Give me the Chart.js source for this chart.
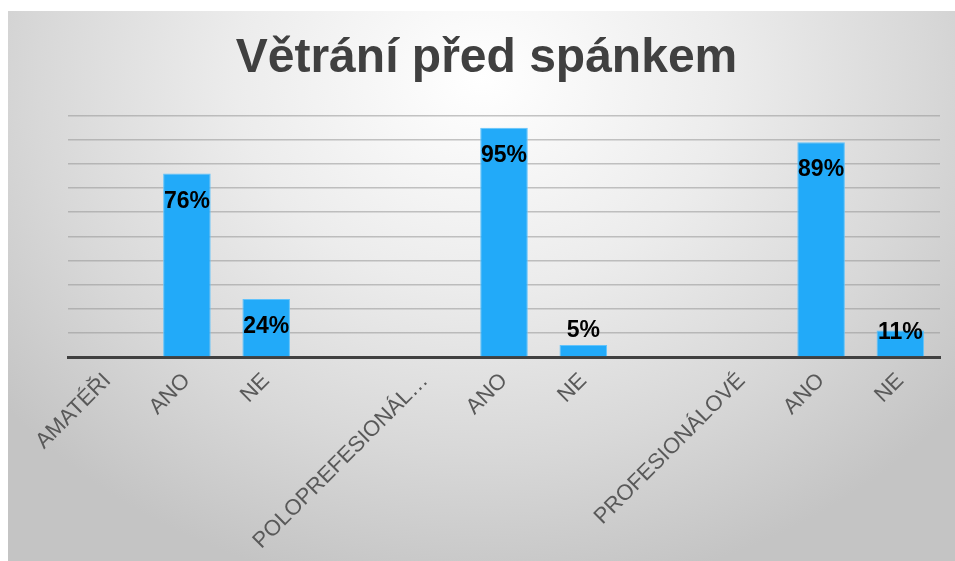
<!DOCTYPE html>
<html>
<head>
<meta charset="utf-8">
<script src="https://cdn.jsdelivr.net/npm/chart.js@4"></script>
<style>
    html, body { margin: 0; padding: 0; background: #ffffff; }
    #box {
        position: absolute;
        left: 8px;
        top: 11px;
        width: 947px;
        height: 550px;
        background: radial-gradient(ellipse 65% 95% at 50% 12%, #ffffff 0%, #ececec 40%, #d8d8d8 72%, #c4c4c4 100%);
    }
</style>
</head>
<body>
<div id="box"><canvas id="chartCanvas" width="947" height="550"></canvas></div>
<script>
// ---------- Data ----------
const categories = ["AMATÉŘI", "ANO", "NE", "", "POLOPREFESIONÁL…", "ANO", "NE", "", "PROFESIONÁLOVÉ", "ANO", "NE"];
const percentValues = [null, 76, 24, null, null, 95, 5, null, null, 89, 11];
const yTicks = [0, 10, 20, 30, 40, 50, 60, 70, 80, 90, 100];

// ---------- Value labels (like excel "inside end") ----------
const valueLabels = {
    id: "valueLabels",
    afterDatasetsDraw(chart) {
        const ctx = chart.ctx;
        const meta = chart.getDatasetMeta(0);
        ctx.save();
        ctx.font = "bold 23px 'Liberation Sans', Arial, sans-serif";
        ctx.fillStyle = "#000000";
        ctx.textAlign = "center";
        ctx.textBaseline = "middle";
        meta.data.forEach((bar, i) => {
            const v = percentValues[i];
            if (v === null) return;
            const h = bar.base - bar.y;
            let y;
            if (h >= 45) {
                y = bar.y + 28;
            } else if (h >= 20) {
                y = bar.base - 24;
            } else {
                y = bar.y - 14;
            }
            ctx.fillText(v + "%", bar.x, y);
        });
        ctx.restore();
    }
};

const ctx = document.getElementById("chartCanvas").getContext("2d");

new Chart(ctx, {
    type: "bar",
    data: {
        labels: categories,
        datasets: [{
            label: "Větrání před spánkem",
            data: percentValues,
            backgroundColor: "#22aaf9",
            borderColor: "#62c3fb",
            borderWidth: 1,
            barPercentage: 0.6,
            categoryPercentage: 1.0
        }]
    },
    options: {
        responsive: false,
        animation: false,
        // left padding kept small so the title centres like the original
        layout: { padding: { left: 25, right: 15, top: 0, bottom: 0 } },
        plugins: {
            legend: { display: false },
            tooltip: { enabled: false },
            title: {
                display: true,
                text: "Větrání před spánkem",
                color: "#404040",
                font: { family: "'Liberation Sans', Arial, sans-serif", size: 48, weight: "bold" },
                padding: { top: 19, bottom: 28 }
            }
        },
        scales: {
            x: {
                grid: { display: false, drawTicks: false },
                border: { display: true, color: "#404040", width: 3 },
                ticks: {
                    autoSkip: false,
                    minRotation: 45,
                    maxRotation: 45,
                    padding: 11,
                    color: "#595959",
                    font: { family: "'Liberation Sans', Arial, sans-serif", size: 22 }
                },
                afterFit: function(scale) {
                    scale.height = 204;
                }
            },
            y: {
                min: 0,
                max: 100,
                afterBuildTicks: function(scale) {
                    scale.ticks = yTicks.map(v => ({ value: v }));
                },
                grid: { color: "rgba(150,150,150,0.55)", lineWidth: 1.5, drawTicks: false },
                border: { display: false },
                ticks: { display: false },
                afterFit: function(scale) {
                    scale.width = 35;
                }
            }
        }
    },
    plugins: [valueLabels]
});
</script>
</body>
</html>
